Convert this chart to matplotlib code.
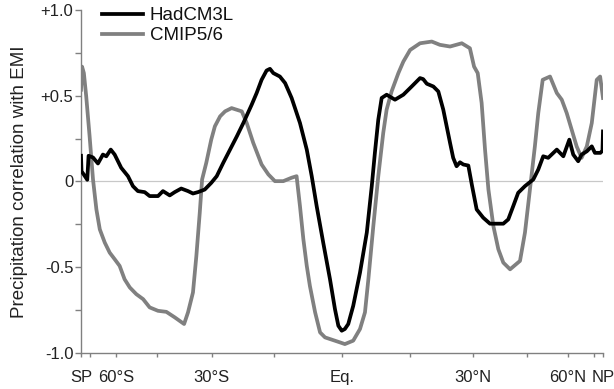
import numpy as np
import matplotlib
matplotlib.use("Agg")
import matplotlib.pyplot as plt

plt.rcParams['font.family'] = ['Liberation Sans', 'DejaVu Sans']

# x axis variable: sine of latitude (-1 = South Pole, +1 = North Pole)
had_sinlat = [-1.0, -0.998, -0.989, -0.976, -0.971, -0.954, -0.935, -0.916, -0.903, -0.886,
              -0.871, -0.846, -0.820, -0.801, -0.782, -0.756, -0.737, -0.705, -0.686, -0.660,
              -0.641, -0.616, -0.590, -0.571, -0.552, -0.526, -0.501, -0.480, -0.455, -0.429,
              -0.403, -0.378, -0.346, -0.327, -0.308, -0.289, -0.276, -0.263, -0.238, -0.218,
              -0.193, -0.161, -0.135, -0.116, -0.097, -0.072, -0.046, -0.027, -0.014, -0.001,
              0.011, 0.024, 0.043, 0.069, 0.095, 0.114, 0.126, 0.139, 0.152, 0.171,
              0.203, 0.235, 0.267, 0.299, 0.311, 0.325, 0.350, 0.369, 0.388, 0.414,
              0.426, 0.439, 0.452, 0.465, 0.484, 0.498, 0.516, 0.541, 0.567, 0.618,
              0.637, 0.656, 0.675, 0.701, 0.733, 0.752, 0.771, 0.790, 0.823, 0.848,
              0.871, 0.886, 0.905, 0.918, 0.938, 0.957, 0.969, 0.990, 0.998, 1.0]
had_corr = [0.15, 0.06, 0.04, 0.01, 0.15, 0.14, 0.105, 0.157, 0.147, 0.186,
            0.157, 0.08, 0.031, -0.027, -0.056, -0.062, -0.085, -0.085, -0.056, -0.081,
            -0.062, -0.041, -0.056, -0.07, -0.062, -0.047, -0.008, 0.031, 0.109, 0.186,
            0.263, 0.341, 0.448, 0.516, 0.593, 0.647, 0.657, 0.632, 0.612, 0.574,
            0.487, 0.341, 0.186, 0.031, -0.144, -0.356, -0.570, -0.744, -0.841, -0.870,
            -0.860, -0.831, -0.725, -0.531, -0.298, -0.027, 0.167, 0.360, 0.487, 0.506,
            0.477, 0.506, 0.554, 0.603, 0.597, 0.570, 0.554, 0.525, 0.419, 0.225,
            0.138, 0.089, 0.112, 0.099, 0.093, -0.023, -0.163, -0.211, -0.246, -0.246,
            -0.221, -0.144, -0.066, -0.027, 0.012, 0.070, 0.147, 0.138, 0.186, 0.147,
            0.244, 0.157, 0.118, 0.157, 0.176, 0.205, 0.167, 0.167, 0.18, 0.292]

cmip_sinlat = [-1.0, -0.996, -0.989, -0.980, -0.967, -0.954, -0.941, -0.928, -0.909, -0.890,
               -0.871, -0.852, -0.833, -0.813, -0.788, -0.762, -0.737, -0.705, -0.673, -0.641,
               -0.605, -0.590, -0.571, -0.558, -0.545, -0.536, -0.520, -0.501, -0.487, -0.467,
               -0.448, -0.423, -0.384, -0.365, -0.340, -0.308, -0.282, -0.257, -0.225, -0.193,
               -0.174, -0.161, -0.148, -0.135, -0.123, -0.103, -0.084, -0.065, -0.008, 0.011,
               0.043, 0.069, 0.088, 0.101, 0.120, 0.139, 0.158, 0.171, 0.190, 0.216,
               0.235, 0.261, 0.299, 0.344, 0.375, 0.414, 0.459, 0.490, 0.506, 0.520,
               0.535, 0.548, 0.561, 0.580, 0.599, 0.618, 0.644, 0.682, 0.701, 0.720,
               0.739, 0.752, 0.769, 0.797, 0.823, 0.842, 0.861, 0.880, 0.899, 0.918,
               0.938, 0.957, 0.976, 0.989, 1.0]
cmip_corr = [0.535, 0.670, 0.632, 0.496, 0.263, 0.012, -0.163, -0.279, -0.356, -0.415,
             -0.453, -0.492, -0.570, -0.618, -0.657, -0.686, -0.734, -0.754, -0.760, -0.792,
             -0.831, -0.763, -0.647, -0.434, -0.182, 0.012, 0.109, 0.244, 0.322, 0.380,
             0.409, 0.428, 0.409, 0.341, 0.225, 0.099, 0.041, 0.002, 0.002, 0.022,
             0.031, -0.144, -0.337, -0.492, -0.609, -0.763, -0.880, -0.909, -0.938, -0.948,
             -0.928, -0.860, -0.763, -0.570, -0.260, 0.031, 0.283, 0.419, 0.525, 0.632,
             0.699, 0.767, 0.806, 0.816, 0.797, 0.787, 0.806, 0.777, 0.670, 0.632,
             0.458, 0.186, -0.047, -0.260, -0.395, -0.473, -0.512, -0.463, -0.298, -0.047,
             0.205, 0.399, 0.593, 0.612, 0.516, 0.477, 0.399, 0.302, 0.205, 0.138,
             0.205, 0.341, 0.593, 0.612, 0.487]

tick_lats = [-90, -75, -60, -45, -30, -15, 0, 15, 30, 45, 60, 75, 90]
tick_labels = ['SP', '', '60°S', '', '30°S', '', 'Eq.', '', '30°N', '', '60°N', '', 'NP']
y_ticks = [-1.0, -0.75, -0.5, -0.25, 0.0, 0.25, 0.5, 0.75, 1.0]
y_labels = ['-1.0', '', '-0.5', '', '0', '', '+0.5', '', '+1.0']

W, H = 614, 389
fig = plt.figure(figsize=(W / 100, H / 100), dpi=100)
ax = fig.add_axes([81 / W, 1 - 353 / H, (603 - 81) / W, (353 - 10) / H])

ax.axhline(0, color='#c8c8c8', lw=0.9, zorder=1)
ax.plot(had_sinlat, had_corr, color='black', lw=2.7, label='HadCM3L', zorder=3,
        solid_joinstyle='round')
ax.plot(cmip_sinlat, cmip_corr, color='#808080', lw=2.7, label='CMIP5/6', zorder=2,
        solid_joinstyle='round')

ax.set_xlim(-1, 1)
ax.set_ylim(-1, 1)
ax.set_xticks(np.sin(np.radians(tick_lats)))
ax.set_xticklabels(tick_labels)
ax.set_yticks(y_ticks)
ax.set_yticklabels(y_labels)

for s in ['top', 'right']:
    ax.spines[s].set_visible(False)
for s in ['left', 'bottom']:
    ax.spines[s].set_color('#808080')
    ax.spines[s].set_linewidth(1.0)

ax.tick_params(axis='y', direction='out', length=4.5, width=1.0, color='#808080',
               labelsize=12, pad=1, labelcolor='#222222')
ax.tick_params(axis='x', direction='out', length=3, width=1.0, color='#808080',
               labelsize=12, pad=9, labelcolor='#222222')

ax.set_ylabel('Precipitation correlation with EMI', fontsize=13.5, color='#222222')
ax.yaxis.set_label_coords(-0.1015, 0.5)

leg = ax.legend(loc='upper left', bbox_to_anchor=(102 / W, 1 - 7 / H),
                bbox_transform=fig.transFigure, frameon=False, fontsize=13.5,
                handlelength=2.2, handletextpad=0.35, borderpad=0, borderaxespad=0,
                labelspacing=0.15)
for t in leg.get_texts():
    t.set_color('#111111')

fig.savefig('out.png', dpi=100)
